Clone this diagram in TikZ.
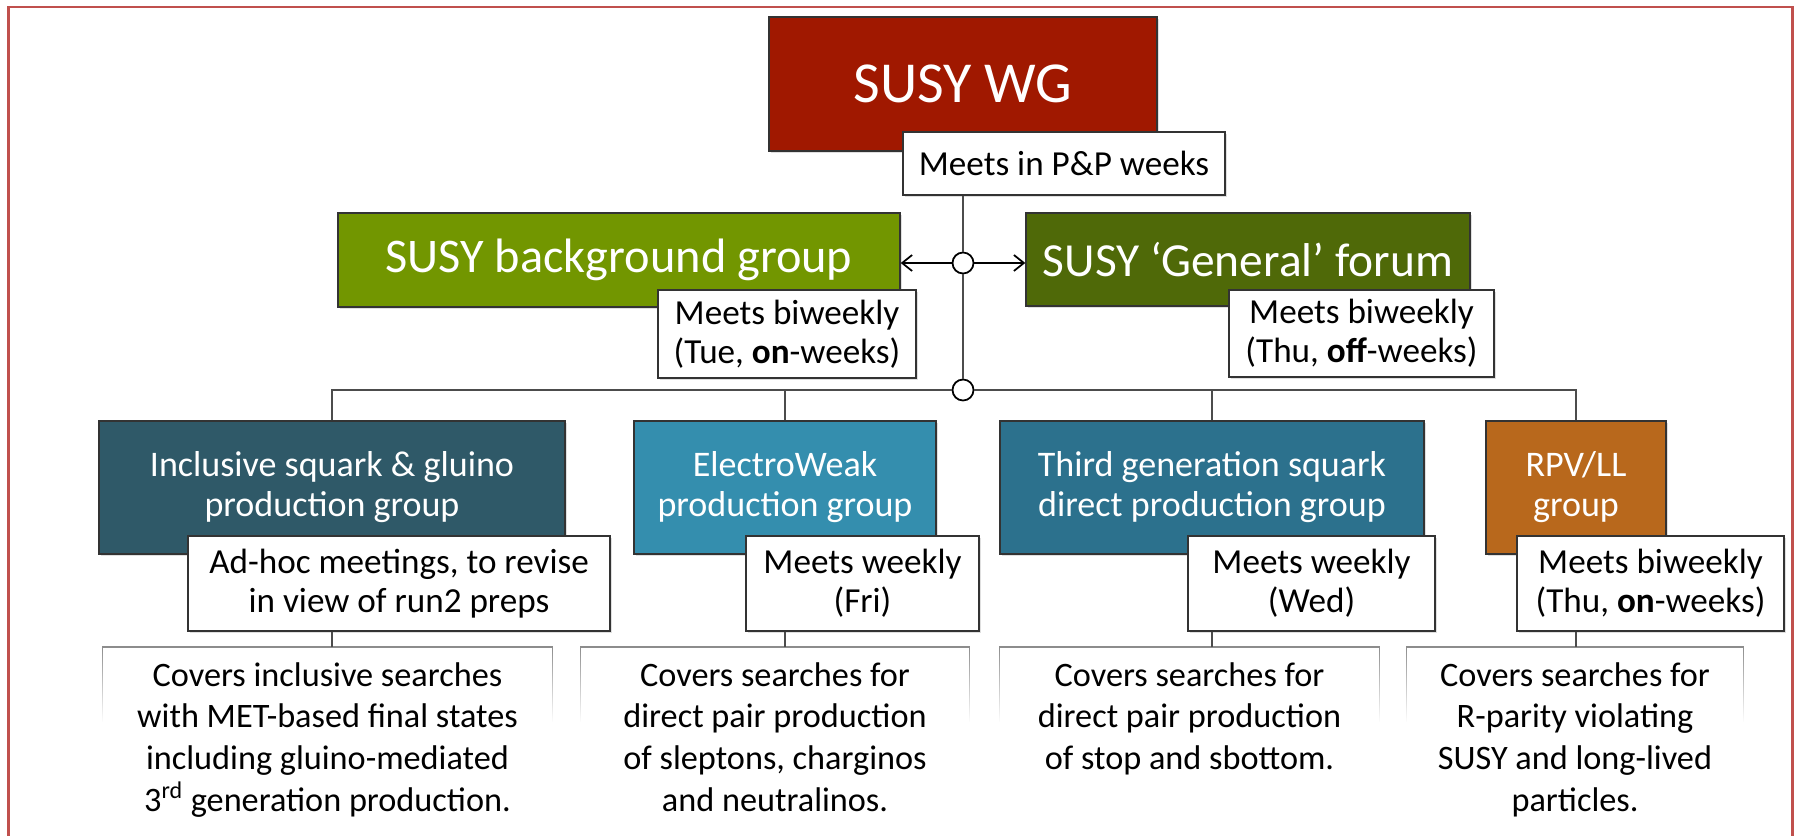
\documentclass[tikz,border=0pt]{standalone}
\usepackage{fontspec}
\setmainfont{Carlito}
\usetikzlibrary{fadings,shadows,arrows.meta}

\definecolor{bordure}{RGB}{192,80,77}
\definecolor{rougewg}{RGB}{160,24,0}
\definecolor{vertbg}{RGB}{114,150,0}
\definecolor{vertgen}{RGB}{79,105,8}
\definecolor{bleuincl}{RGB}{47,89,104}
\definecolor{bleuew}{RGB}{52,142,174}
\definecolor{bleutrois}{RGB}{44,113,141}
\definecolor{orangerpv}{RGB}{184,104,28}

\begin{document}
\begin{tikzpicture}
	\tikzstyle{groupe}=[draw=black!80, line width=0.8pt, text=white, align=center, inner sep=0pt, drop shadow={shadow xshift=1pt, shadow yshift=-1pt, opacity=.25}]
	\tikzstyle{reunion}=[draw=black!80, line width=0.8pt, fill=white, align=center, inner sep=0pt, font=\fontsize{20}{22}\selectfont, drop shadow={shadow xshift=1pt, shadow yshift=-1pt, opacity=.25}]
	\tikzstyle{descr}=[anchor=north, align=center, inner xsep=0pt, inner ysep=0.3cm, font=\fontsize{19.5}{23.8}\selectfont]
	\tikzstyle{cadre_flou}=[draw=black!45, line width=0.8pt, path fading=south]
	\tikzstyle{lien}=[draw=black!70, line width=1.1pt]
	\tikzstyle{pivot}=[circle, draw=black, fill=white, line width=1pt, minimum size=0.42cm, inner sep=0pt]
	\useasboundingbox (0,0) rectangle (35.94,-16.72);
	\draw[bordure, line width=1.2pt] (0.17,-0.14) rectangle (35.85,-17.2);

	% haut
	\node[groupe, fill=rougewg, minimum width=7.76cm, minimum height=2.68cm, font=\fontsize{33}{36}\selectfont] (wg) at (19.26,-1.68) {SUSY WG};
	\node[reunion, minimum width=6.44cm, minimum height=1.26cm] (pp) at (21.28,-3.27) {Meets in P\&P weeks};

	\node[pivot] (hub1) at (19.26,-5.26) {};
	\node[pivot] (hub2) at (19.26,-7.80) {};

	% deuxieme niveau
	\node[groupe, fill=vertbg, minimum width=11.24cm, minimum height=1.88cm, font=\fontsize{27.5}{30}\selectfont] (bg) at (12.38,-5.20) {SUSY background group};
	\node[reunion, minimum width=5.16cm, minimum height=1.76cm] (tue) at (15.74,-6.68) {Meets biweekly\\(Tue, \textbf{on}-weeks)};
	\node[groupe, fill=vertgen, minimum width=8.88cm, minimum height=1.86cm, font=\fontsize{27}{30}\selectfont] (gen) at (24.96,-5.19) {SUSY ‘General’ forum};
	\node[reunion, minimum width=5.30cm, minimum height=1.74cm] (thuoff) at (27.23,-6.67) {Meets biweekly\\(Thu, \textbf{off}-weeks)};

	% liens du haut
	\draw[lien] (wg.south |- pp.south) -- (hub1);
	\draw[lien] (hub1) -- (hub2);
	\draw[black, line width=1pt, -{Straight Barb[length=0.2cm, width=0.32cm]}] (hub1) -- (hub1 -| bg.east);
	\draw[black, line width=1pt, -{Straight Barb[length=0.2cm, width=0.32cm]}] (hub1) -- (hub1 -| gen.west);

	% groupes du bas
	\node[groupe, fill=bleuincl, minimum width=9.32cm, minimum height=2.66cm, font=\fontsize{20.5}{22.7}\selectfont] (incl) at (6.64,-9.75) {Inclusive squark \& gluino\\production group};
	\node[groupe, fill=bleuew, minimum width=6.04cm, minimum height=2.66cm, font=\fontsize{20.5}{22.7}\selectfont] (ew) at (15.70,-9.75) {ElectroWeak\\production group};
	\node[groupe, fill=bleutrois, minimum width=8.48cm, minimum height=2.66cm, font=\fontsize{20.5}{22.7}\selectfont] (third) at (24.24,-9.75) {Third generation squark\\direct production group};
	\node[groupe, fill=orangerpv, minimum width=3.60cm, minimum height=2.66cm, font=\fontsize{20.5}{22.7}\selectfont] (rpv) at (31.52,-9.75) {RPV/LL\\group};

	\draw[lien] (incl.north) |- (hub2.west);
	\draw[lien] (rpv.north) |- (hub2.east);
	\draw[lien] (ew.north) -- (ew.north |- hub2);
	\draw[lien] (third.north) -- (third.north |- hub2);

	\node[reunion, minimum width=8.44cm, minimum height=1.90cm] (adhoc) at (7.98,-11.67) {Ad-hoc meetings, to revise\\in view of run2 preps};
	\node[reunion, minimum width=4.66cm, minimum height=1.90cm] (fri) at (17.25,-11.67) {Meets weekly\\(Fri)};
	\node[reunion, minimum width=4.94cm, minimum height=1.90cm] (wed) at (26.23,-11.67) {Meets weekly\\(Wed)};
	\node[reunion, minimum width=5.34cm, minimum height=1.90cm] (thuon) at (33.01,-11.67) {Meets biweekly\\(Thu, \textbf{on}-weeks)};

	% descriptions
	\node[descr, minimum width=8.98cm] (d1) at (6.55,-12.94) {Covers inclusive searches\\with MET-based final states\\including gluino-mediated\\3\textsuperscript{rd} generation production.};
	\node[descr, minimum width=7.76cm] (d2) at (15.50,-12.94) {Covers searches for\\direct pair production\\of sleptons, charginos\\and neutralinos.};
	\node[descr, minimum width=7.58cm] (d3) at (23.79,-12.94) {Covers searches for\\direct pair production\\of stop and sbottom.};
	\node[descr, minimum width=6.72cm] (d4) at (31.50,-12.94) {Covers searches for\\R-parity violating\\SUSY and long-lived\\particles.};

	\foreach \d in {d1,d2,d3,d4}
		\draw[cadre_flou] (\d.north west) ++(0,-1.5) |- (\d.north east) -- ++(0,-1.5);

	\draw[lien] (incl.north |- adhoc.south) -- (incl.north |- d1.north);
	\draw[lien] (ew.north |- fri.south) -- (ew.north |- d2.north);
	\draw[lien] (third.north |- wed.south) -- (third.north |- d3.north);
	\draw[lien] (rpv.north |- thuon.south) -- (rpv.north |- d4.north);
\end{tikzpicture}
\end{document}
